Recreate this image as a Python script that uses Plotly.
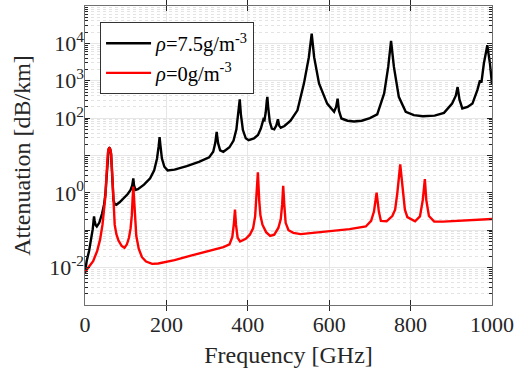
import plotly.graph_objects as go

# --- data (frequency in GHz, attenuation in dB/km) ---
freq_wet = [0, 4, 10, 15, 19, 21, 22.2, 23.5, 26, 29, 35, 42, 47, 50, 52, 54, 56, 58, 60, 62, 64, 66, 68, 70, 73, 77,
            85, 95, 105, 112, 116, 118.7, 120.5, 124, 130, 145, 160, 170, 177, 181, 183.3, 185.5, 189, 195, 203,
            220, 250, 280, 305, 315, 320, 323.5, 327, 332, 340, 355, 365, 372, 377, 380.2, 383, 388, 395, 402,
            415, 425, 432, 436, 438.5, 441, 444, 446.5, 448, 450, 454, 459, 465, 470, 474, 477, 481, 490, 505,
            522, 538, 550, 557, 563, 575, 595, 612, 617, 620.7, 624, 630, 645, 658, 661, 680, 700, 718, 735, 745,
            752, 759, 771, 788, 808, 830, 849, 859, 882, 902, 911, 915.5, 920, 927, 940, 952, 964, 970.5, 974,
            980, 988.5, 995, 1000]
att_wet = [0.0072, 0.0148, 0.028, 0.056, 0.107, 0.178, 0.234, 0.186, 0.138, 0.126, 0.158, 0.28, 0.5, 0.89, 2.0, 5.6,
           11.2, 14.8, 16.2, 14.8, 11.2, 5.0, 1.26, 0.63, 0.5, 0.48,
           0.56, 0.71, 0.93, 1.2, 1.58, 2.45, 1.58, 1.2, 1.26, 1.66, 2.45, 4.0, 8.3, 17.8, 30.9, 17.8, 8.3, 5.0, 4.0,
           4.2, 5.2, 6.8, 8.9, 12.6, 21.4, 42.7, 21.4, 13.8, 12.6, 16.6, 25.1, 50.1, 126, 316, 126, 47.9, 28.8, 25.7,
           28.8, 35.5, 52.5, 75.9, 93.3, 89.1, 141, 282, 372, 200, 79.4, 52.5, 50.1, 63.1, 93.3, 63.1, 55.0, 61.7, 85.1,
           162, 851, 4266, 18200, 4266, 851, 245, 148, 200, 331, 158, 97.7, 85.1, 83.2, 81.3, 85.1, 100, 126, 457, 2344,
           11750, 2344, 372, 148, 120, 112, 112, 117, 138, 245, 398, 676, 316, 182, 200, 245, 562, 1023, 891,
           2884, 8913, 2884, 794]

freq_dry = [0, 10, 20, 30, 37, 43, 47, 50, 52, 54, 56, 58, 60, 62, 64, 66, 68, 70, 73, 77, 82, 90, 97, 103, 108, 112,
            115, 117, 118.75, 120.5, 122.5, 126, 132, 140, 150, 165, 180, 220, 260, 300, 340, 355, 362, 366, 368.5,
            371, 375, 381, 395, 405, 413, 418, 421, 424.8, 428, 431, 436, 445, 455, 465, 475, 481, 484.5, 487, 489.5,
            493, 500, 512, 530, 600, 650, 690, 703, 710, 716.5, 722, 727, 741, 755, 762, 767.5, 774.5, 780.6, 786,
            792, 811, 823, 830, 835, 838.5, 845, 858, 880, 950, 1000]
att_dry = [0.0076, 0.0105, 0.0148, 0.028, 0.056, 0.141, 0.355, 0.79, 2.0, 5.6, 11.2, 14.8, 15.8, 14.8, 11.2, 5.0, 1.26,
           0.355, 0.141, 0.079, 0.054, 0.038, 0.034, 0.042, 0.063, 0.112,
           0.25, 0.71, 1.48, 0.71, 0.224, 0.071, 0.032, 0.019, 0.0145, 0.0126, 0.0129, 0.0158, 0.0209, 0.0275, 0.0355,
           0.0417, 0.066, 0.158, 0.355,
           0.141, 0.063, 0.05, 0.059, 0.076, 0.112, 0.234, 0.63, 3.55, 0.63, 0.25, 0.141, 0.089, 0.071, 0.076, 0.115,
           0.2, 0.5, 1.55, 0.5,
           0.158, 0.1, 0.085, 0.079, 0.093, 0.107, 0.126, 0.178, 0.316, 1.02, 0.316, 0.178, 0.174, 0.24, 0.355, 1.02,
           5.75, 1.02, 0.355,
           0.224, 0.174, 0.234, 0.65, 2.34, 0.65, 0.24, 0.17, 0.17, 0.19, 0.2]

label_wet = "<i>ρ</i>=7.5g/m<sup>-3</sup>"
label_dry = "<i>ρ</i>=0g/m<sup>-3</sup>"

x_ticks = [0, 200, 400, 600, 800, 1000]
y_decades = [1e-3, 1e-2, 1e-1, 1e0, 1e1, 1e2, 1e3, 1e4, 1e5]
y_label_vals = [1e-2, 1e0, 1e2, 1e3, 1e4]
y_label_text = ["10<sup>-2</sup>", "10<sup>0</sup>", "10<sup>2</sup>", "10<sup>3</sup>", "10<sup>4</sup>"]
y_minor = [m * 10.0 ** e for e in range(-3, 5) for m in range(2, 10)]

FONT = "Liberation Serif, Times New Roman, serif"
AX = "#262626"

fig = go.Figure()
fig.add_trace(go.Scatter(x=freq_wet, y=att_wet, mode="lines", name=label_wet,
                         line=dict(color="black", width=2.4)))
fig.add_trace(go.Scatter(x=freq_dry, y=att_dry, mode="lines", name=label_dry, yaxis="y2",
                         line=dict(color="red", width=2.4)))

fig.update_layout(
    width=528, height=370,
    margin=dict(l=85, r=36, t=6, b=65),
    paper_bgcolor="white", plot_bgcolor="white",
    font=dict(family=FONT, size=20, color=AX),
    showlegend=True,
    legend=dict(x=0.037, y=0.945, xanchor="left", yanchor="top",
                bgcolor="white", bordercolor="#333", borderwidth=1,
                font=dict(family=FONT, size=20.5, color="black"),
                itemwidth=45, tracegroupgap=0),
    xaxis=dict(
        range=[0, 1000], tickmode="array", tickvals=x_ticks,
        ticks="inside", ticklen=5, tickcolor=AX, mirror="allticks",
        showline=True, linecolor="#707070", linewidth=1,
        showgrid=True, gridcolor="#e6e6e6", gridwidth=1, zeroline=False,
        tickfont=dict(family=FONT, size=22, color=AX),
        title=dict(text="Frequency [GHz]", font=dict(family=FONT, size=24, color=AX), standoff=9),
    ),
    yaxis=dict(
        type="log", range=[-3, 5], tickmode="array", tickvals=y_decades, showticklabels=False,
        ticks="inside", ticklen=5, tickcolor=AX, mirror="allticks",
        showline=True, linecolor="#707070", linewidth=1,
        showgrid=True, gridcolor="#e6e6e6", gridwidth=1, zeroline=False,
        minor=dict(tickmode="array", tickvals=y_minor, ticks="inside", ticklen=3, tickcolor=AX,
                   showgrid=True, gridcolor="#e3e3e3", griddash="dot", gridwidth=1),
    ),
    yaxis2=dict(
        type="log", range=[-3, 5], overlaying="y", side="left", anchor="x",
        tickmode="array", tickvals=y_label_vals, ticktext=y_label_text,
        ticks="", showgrid=False, showline=False, zeroline=False,
        tickfont=dict(family=FONT, size=22, color=AX),
        title=dict(text="Attenuation [dB/km]", font=dict(family=FONT, size=24, color=AX), standoff=11),
    ),
)

fig.write_html("out.html", config={"displayModeBar": False},
               post_script="document.body.style.margin='0';")
